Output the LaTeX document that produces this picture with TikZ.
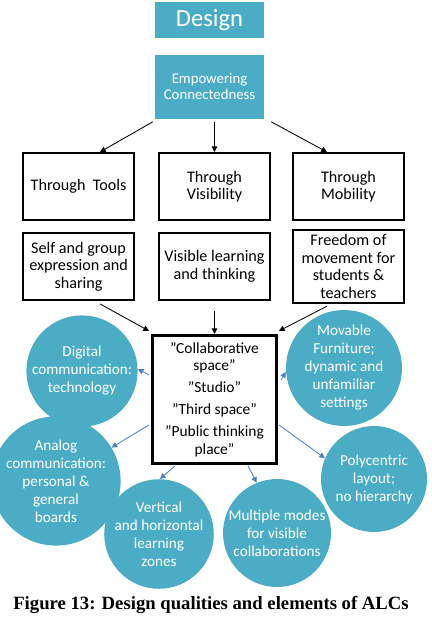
\documentclass[tikz,border=0pt]{standalone}
\usepackage{fontspec}
\setmainfont{Carlito}
\newfontfamily\capfont{Liberation Serif}
\usetikzlibrary{positioning,arrows.meta}
\definecolor{aqua}{HTML}{4BACC6}
\definecolor{linkblue}{HTML}{4F81BD}

\begin{document}
\begin{tikzpicture}[x=0.25mm,y=-0.25mm,
    tealbox/.style={rectangle, fill=aqua, text=white, minimum width=27.25mm, align=center},
    whitebox/.style={draw, rectangle, line width=1.4pt, minimum width=27.75mm, minimum height=16.75mm, align=center, font=\fontsize{11.5}{12.5}\selectfont},
    bubble/.style={circle, fill=aqua, text=white, align=center, inner sep=0pt, font=\fontsize{10.8}{12.8}\selectfont},
    blackarrow/.style={-{Triangle[length=4pt,width=4pt]}, line width=0.6pt},
    bluearrow/.style={-{Triangle[length=4pt,width=4pt]}, linkblue, line width=0.6pt}]
    \useasboundingbox (0,0) rectangle (431,620);

    % top of the tree
    \node (design) [tealbox, minimum height=9mm, font=\fontsize{17.5}{20}\selectfont] at (209.5,20) {Design};
    \node (empower) [tealbox, minimum height=16mm, below=4mm of design, font=\fontsize{10.5}{11.8}\selectfont] {Empowering\\Connectedness};

    % three ways
    \node (visib) [whitebox] at (214.5,186.5) {Through\\Visibility};
    \node (tools) [whitebox, left=5.75mm of visib] {Through~ Tools};
    \node (mobil) [whitebox, right=5.25mm of visib] {Through\\Mobility};

    \node (visilearn) [whitebox, below=2.75mm of visib] {Visible learning\\and thinking};
    \node (selfexpr) [whitebox, left=5.75mm of visilearn] {Self and group\\expression and\\sharing};
    \node (freedom) [whitebox, right=5.25mm of visilearn] {Freedom of\\movement for\\students \&\\teachers};

    % the space itself
    \node (space) [draw, rectangle, line width=2.1pt, minimum width=31mm, minimum height=32mm, below=8.25mm of visilearn, align=center, font=\fontsize{11}{12.6}\selectfont]
        {”Collaborative\\space”\\[3pt]”Studio”\\[3pt]”Third space”\\[3pt]”Public thinking\\place”};

    % elements
    \node (digital) [bubble, minimum size=27.5mm] at (82,371) {Digital\\communication:\\technology};
    \node (movable) [bubble, minimum size=26.25mm] at (344,368) {Movable\\Furniture;\\dynamic and\\unfamiliar\\settings};
    \node (analog) [bubble, minimum size=26.25mm] at (56,481) {Analog\\communication:\\personal \&\\general\\boards};
    \node (polyc) [bubble, minimum size=26.5mm] at (374,479) {Polycentric\\layout;\\no hierarchy};
    \node (vertzones) [bubble, minimum size=27mm] at (159,534) {Vertical\\and horizontal\\learning\\zones};
    \node (multimodes) [bubble, minimum size=27mm] at (277,533) {Multiple modes\\for visible\\collaborations};

    \draw[blackarrow] ([shift={(-2,3)}]empower.south west) -- ([shift={(21.5,0)}]tools.north);
    \draw[blackarrow, shorten <=0.75mm] (empower.south -| visib.north) -- (visib.north);
    \draw[blackarrow] ([shift={(7,3)}]empower.south east) -- ([shift={(-21.5,0)}]mobil.north);

    \draw[blackarrow] ([shift={(21.5,3)}]selfexpr.south) -- ([shift={(-2,-3)}]space.north west);
    \draw[blackarrow, shorten <=2.5mm] (visilearn.south) -- (space.north);
    \draw[blackarrow] ([shift={(-21.5,2)}]freedom.south) -- ([shift={(1,-3)}]space.north east);

    \draw[bluearrow] ([shift={(-2,-24.5)}]space.west) -- (digital.2);
    \draw[bluearrow] ([shift={(3,-19.5)}]space.east) -- (movable.184);
    \draw[bluearrow] ([shift={(-2,25.5)}]space.west) -- (analog.31);
    \draw[bluearrow] ([shift={(1,25.5)}]space.east) -- (polyc.157);
    \draw[bluearrow] ([shift={(-39.5,1)}]space.south) -- (vertzones.89);
    \draw[bluearrow] ([shift={(33.5,1)}]space.south) -- (multimodes.112);

    \node (caption) at (211,605) {\capfont\bfseries\fontsize{13.3}{15}\selectfont Figure 13: Design qualities and elements of ALCs};
\end{tikzpicture}
\end{document}
